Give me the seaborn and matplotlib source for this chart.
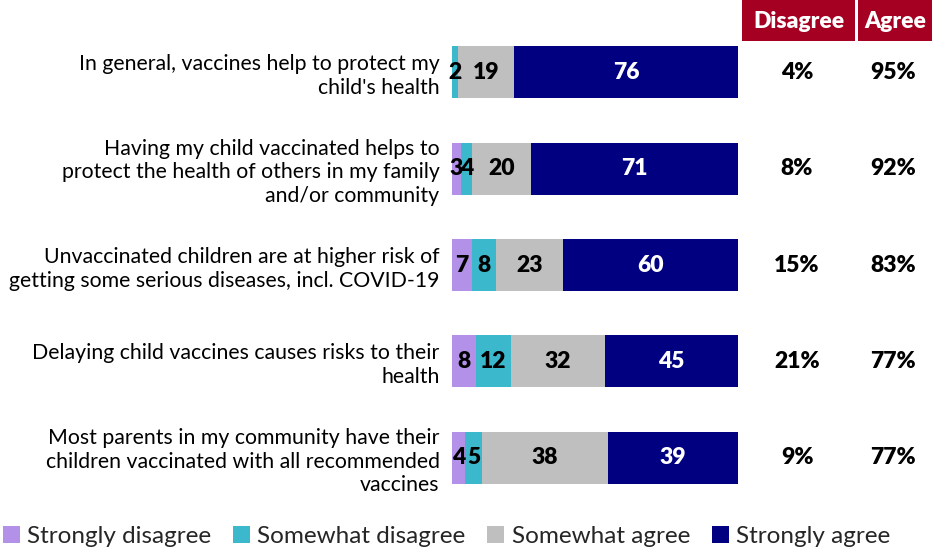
import matplotlib
matplotlib.use("Agg")
import matplotlib.pyplot as plt
import matplotlib.transforms as mtrans
from matplotlib.patches import Rectangle, Patch
import seaborn as sns
import numpy as np
import pandas as pd

categories = [
    "In general, vaccines help to protect my\nchild's health",
    "Having my child vaccinated helps to\nprotect the health of others in my family\nand/or community",
    "Unvaccinated children are at higher risk of\ngetting some serious diseases, incl. COVID-19",
    "Delaying child vaccines causes risks to their\nhealth",
    "Most parents in my community have their\nchildren vaccinated with all recommended\nvaccines",
]
series_names = ["Strongly disagree", "Somewhat disagree", "Somewhat agree", "Strongly agree"]
strongly_disagree = [0, 3, 7, 8, 4]
somewhat_disagree = [2, 4, 8, 12, 5]
somewhat_agree = [19, 20, 23, 32, 38]
strongly_agree = [76, 71, 60, 45, 39]
disagree_total = ["4%", "8%", "15%", "21%", "9%"]
agree_total = ["95%", "92%", "83%", "77%", "77%"]

colors = ["#B491E8", "#3BB8CC", "#BFBFBF", "#000080"]
label_colors = ["black", "black", "black", "white"]
header_red = "#A50021"

sns.set_theme(style="white")
plt.rcParams["font.family"] = ["Lato", "DejaVu Sans"]

vals = np.array([strongly_disagree, somewhat_disagree, somewhat_agree, strongly_agree], dtype=float)
totals = vals.sum(axis=0)
shares = vals / totals
cum = np.cumsum(shares, axis=0)

fig = plt.figure(figsize=(9.4, 5.5), dpi=100)
W, H = 940, 550
ax = fig.add_axes([452 / W, 1 - 506 / H, (738 - 452) / W, (506 - 24) / H])

for k in range(3, -1, -1):
    df = pd.DataFrame({"cat": categories, "val": cum[k]})
    sns.barplot(data=df, x="val", y="cat", color=colors[k], orient="h",
                width=0.54, ax=ax, saturation=1, linewidth=0)

ax.set_xlim(0, 1)
ax.set_ylim(4.5, -0.5)
ax.set_xlabel("")
ax.set_ylabel("")
ax.set_xticks([])
for s in ax.spines.values():
    s.set_visible(False)
ax.tick_params(axis="y", length=0, pad=9, labelsize=15.3)
for lbl in ax.get_yticklabels():
    lbl.set_horizontalalignment("right")
    lbl.set_linespacing(1.22)
    lbl.set_color("black")

# value labels
for k in range(4):
    start = cum[k] - shares[k]
    for i in range(len(categories)):
        v = vals[k, i]
        if v <= 0:
            continue
        ax.text(start[i] + shares[k, i] / 2, i, f"{int(v)}", ha="center", va="center",
                fontsize=16.5, fontweight="heavy", color=label_colors[k])

# totals columns
tr = mtrans.blended_transform_factory(fig.transFigure, ax.transData)
for i in range(len(categories)):
    ax.text(797 / W, i, disagree_total[i], transform=tr, ha="center", va="center",
            fontsize=16.5, fontweight="heavy", color="black")
    ax.text(893 / W, i, agree_total[i], transform=tr, ha="center", va="center",
            fontsize=16.5, fontweight="heavy", color="black")

# header boxes
for (x0, x1, txt) in [(742, 855, "Disagree"), (858, 932, "Agree")]:
    fig.patches.append(Rectangle((x0 / W, 1 - 41 / H), (x1 - x0) / W, 41 / H,
                                 transform=fig.transFigure, facecolor=header_red,
                                 edgecolor="none", zorder=0))
    fig.text((x0 + x1) / 2 / W, 1 - 21 / H, txt, ha="center", va="center",
             fontsize=16.5, fontweight="heavy", color="white")

handles = [Patch(facecolor=c, edgecolor="none", label=n) for c, n in zip(colors, series_names)]
fig.legend(handles=handles, loc="center", bbox_to_anchor=(0.475, 0.024), ncol=4,
           frameon=False, fontsize=17.5, handlelength=0.7, handleheight=0.7,
           handletextpad=0.3, columnspacing=0.9, borderaxespad=0)

fig.savefig("out.png", dpi=100)
